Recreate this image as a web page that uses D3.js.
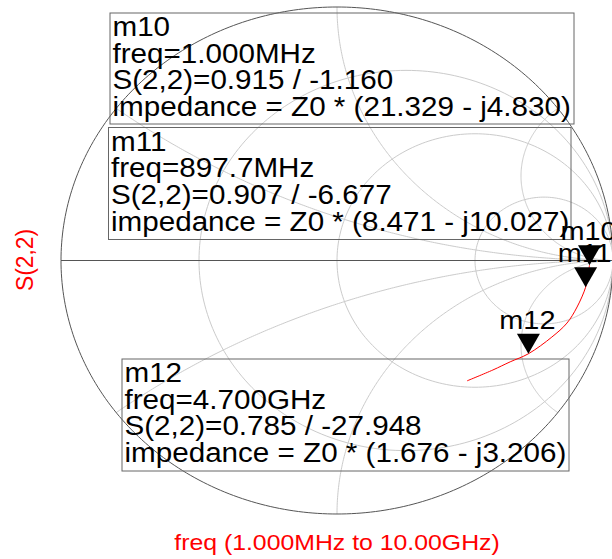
<!DOCTYPE html>
<html>
<head>
<meta charset="utf-8">
<script src="https://cdn.jsdelivr.net/npm/d3@7"></script>
<style>
  html, body { margin: 0; padding: 0; background: #fff; }
  svg { display: block; }
  text { font-family: "Liberation Sans", Arial, Helvetica, sans-serif; }
</style>
</head>
<body>
<svg id="chart" width="612" height="559"></svg>
<script>
// S(2,2) sweep, 1 MHz .. 10 GHz (magnitude, angle in degrees)
const freqGHz = [0.001, 0.45, 0.8977, 1.8, 2.6, 3.5, 4.7, 6.0, 7.3, 10.0];
const s22Mag  = [0.915, 0.911, 0.907, 0.889, 0.869, 0.835, 0.785, 0.744, 0.711, 0.669];
const s22Ang  = [-1.16, -3.9, -6.677, -11.9, -16.5, -21.2, -27.948, -32.5, -37.4, -45.2];

// Markers
const markerNames = ["m10", "m11", "m12"];
const markerFreq  = ["1.000MHz", "897.7MHz", "4.700GHz"];
const markerMag   = [0.915, 0.907, 0.785];
const markerAng   = [-1.160, -6.677, -27.948];
const markerZre   = [21.329, 8.471, 1.676];
const markerZim   = [-4.830, -10.027, -3.206];

// Smith chart grid values
const resistanceGrid = [1 / 3, 1, 3];
const reactanceGrid  = [1 / 3, 1, 3, -1 / 3, -1, -3];

const svg = d3.select("#chart");
svg.append("rect").attr("width", 612).attr("height", 559).attr("fill", "#fff");

// Reflection-coefficient plane -> pixels (the plot is drawn slightly wider than tall)
const x = d3.scaleLinear().domain([-1, 1]).range([61, 613]);
const y = d3.scaleLinear().domain([-1, 1]).range([514, 7]);
const textStretch = (x(1) - x(-1)) / (y(-1) - y(1));

const line = d3.line().x(d => x(d[0])).y(d => y(d[1]));
const smooth = d3.line().x(d => x(d[0])).y(d => y(d[1])).curve(d3.curveCatmullRom.alpha(0.5));

function circlePts(cu, cv, r, t0, t1, n) {
  return d3.range(n + 1).map(i => {
    const t = t0 + (t1 - t0) * i / n;
    return [cu + r * Math.cos(t), cv + r * Math.sin(t)];
  });
}

const grid = svg.append("g").attr("fill", "none").attr("stroke", "#cbcbcb").attr("stroke-width", 1);

// constant-resistance circles
resistanceGrid.forEach(r => {
  grid.append("path").attr("d", line(circlePts(r / (1 + r), 0, 1 / (1 + r), 0, 2 * Math.PI, 240)));
});

// constant-reactance arcs, from the open-circuit point to the rim
reactanceGrid.forEach(xv => {
  const a = Math.abs(xv);
  const iu = (a * a - 1) / (a * a + 1), iv = 2 * a / (a * a + 1);
  let tEnd = Math.atan2(iv - 1 / a, iu - 1);
  if (tEnd > -Math.PI / 2) tEnd -= 2 * Math.PI;
  let pts = circlePts(1, 1 / a, 1 / a, -Math.PI / 2, tEnd, 240);
  if (xv < 0) pts = pts.map(p => [p[0], -p[1]]);
  grid.append("path").attr("d", line(pts));
});

// rim and real axis
svg.append("path")
  .attr("d", line(circlePts(0, 0, 1, 0, 2 * Math.PI, 360)))
  .attr("fill", "none").attr("stroke", "#555").attr("stroke-width", 1);
svg.append("path")
  .attr("d", line([[-1, 0], [1, 0]]))
  .attr("fill", "none").attr("stroke", "#555").attr("stroke-width", 1);

// marker readout boxes
const boxes = [
  { x: 110, y: 13, w: 464, h: 111 },
  { x: 108.5, y: 127.5, w: 462.5, h: 112 },
  { x: 122, y: 359, w: 447, h: 112 }
];
const fmtZ = (re, im) => "impedance = Z0 * (" + re.toFixed(3) + (im < 0 ? " - j" : " + j") + Math.abs(im).toFixed(3) + ")";

markerNames.forEach((name, i) => {
  const b = boxes[i];
  const g = svg.append("g");
  g.append("rect").attr("x", b.x).attr("y", b.y).attr("width", b.w).attr("height", b.h)
    .attr("fill", "none").attr("stroke", "#666").attr("stroke-width", 1);
  const lines = [
    name,
    "freq=" + markerFreq[i],
    "S(2,2)=" + markerMag[i].toFixed(3) + " / " + markerAng[i].toFixed(3),
    fmtZ(markerZre[i], markerZim[i])
  ];
  lines.forEach((t, k) => {
    g.append("text")
      .attr("transform", `translate(${b.x + 2.5},${b.y + 23 + k * 26.7}) scale(${textStretch},1)`)
      .attr("font-size", 27.2).attr("fill", "#000").text(t);
  });
});

// S(2,2) trace
const toGamma = (m, a) => [m * Math.cos(a * Math.PI / 180), m * Math.sin(a * Math.PI / 180)];
const trace = freqGHz.map((f, i) => toGamma(s22Mag[i], s22Ang[i]));
svg.append("path").attr("d", smooth(trace))
  .attr("fill", "none").attr("stroke", "#ff0000").attr("stroke-width", 1);

// marker symbols and names
markerNames.forEach((name, i) => {
  const p = toGamma(markerMag[i], markerAng[i]);
  const px = x(p[0]), py = y(p[1]);
  svg.append("path")
    .attr("d", `M${px},${py} L${px - 11.5},${py - 20} L${px + 11.5},${py - 20} Z`)
    .attr("fill", "#000");
  svg.append("text")
    .attr("transform", `translate(${px - 1},${py - 25}) scale(${textStretch},1)`)
    .attr("text-anchor", "middle").attr("font-size", 26.5).attr("fill", "#000").text(name);
});

// axis captions
svg.append("text")
  .attr("transform", `translate(33,260) scale(${textStretch},1) rotate(-90)`)
  .attr("text-anchor", "middle").attr("font-size", 22.8).attr("fill", "#ff0000").text("S(2,2)");
svg.append("text")
  .attr("transform", `translate(337,550) scale(${textStretch},1)`)
  .attr("text-anchor", "middle").attr("font-size", 22.8).attr("fill", "#ff0000")
  .text("freq (1.000MHz to 10.00GHz)");
</script>
</body>
</html>
